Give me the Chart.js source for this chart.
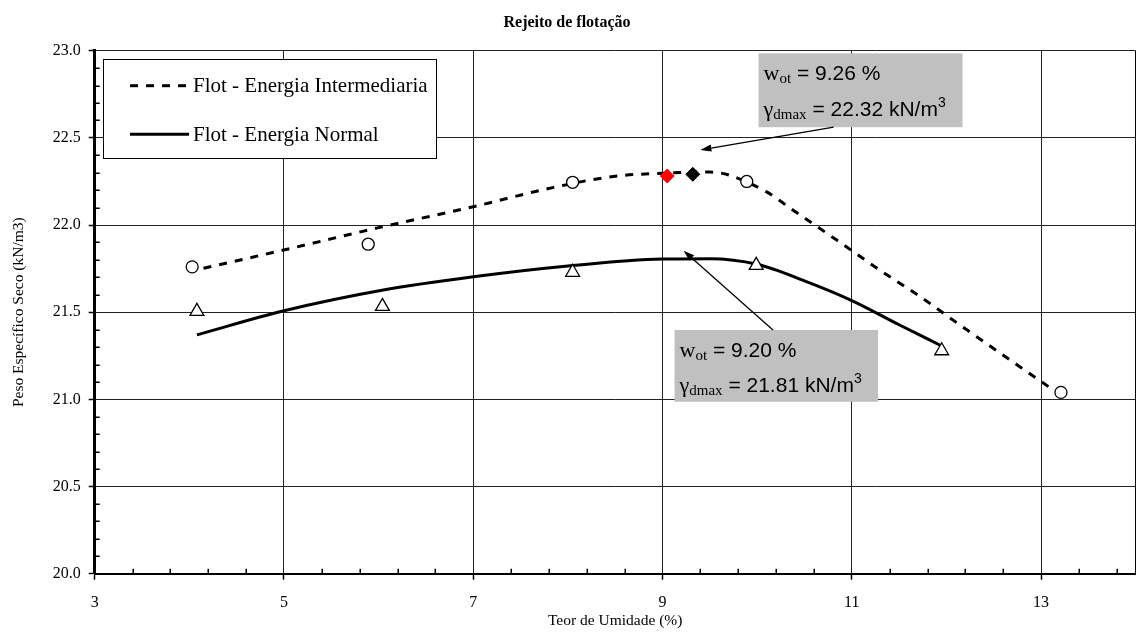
<!DOCTYPE html>
<html><head><meta charset="utf-8">
<script src="https://cdn.jsdelivr.net/npm/chart.js@4.4.1/dist/chart.umd.min.js"></script>
<style>html,body{margin:0;padding:0;background:#fff}#wrap{width:1138px;height:633px}</style>
</head><body><div id="wrap"><canvas id="c" width="1138" height="633"></canvas></div>
<script>
// ---------- data ----------
const chartTitle = 'Rejeito de flotação';
const xTitle = 'Teor de Umidade (%)';
const yTitle = 'Peso Específico Seco (kN/m3)';
const xTickValues = [3, 5, 7, 9, 11, 13];
const yTickValues = [20.0, 20.5, 21.0, 21.5, 22.0, 22.5, 23.0];
const seriesNames = ['Flot - Energia Intermediaria', 'Flot - Energia Normal'];

const intermPointsX = [4.03, 5.89, 8.05, 9.89, 13.21];
const intermPointsY = [21.76, 21.89, 22.245, 22.25, 21.04];
const normalPointsX = [4.08, 6.04, 8.05, 9.99, 11.95];
const normalPointsY = [21.505, 21.533, 21.729, 21.769, 21.279];

const intermCurveX = [4.15, 5.0, 6.0, 7.0, 7.85, 8.5, 9.0, 9.5, 9.7, 10.1, 10.38, 10.84, 11.3, 11.72, 12.16, 13.1];
const intermCurveY = [21.752, 21.857, 21.985, 22.105, 22.216, 22.28, 22.297, 22.304, 22.287, 22.19, 22.085, 21.914, 21.74, 21.59, 21.42, 21.065];
const normalCurveX = [4.08, 5.0, 6.05, 7.0, 8.0, 9.0, 9.5, 10.0, 10.5, 11.0, 11.5, 11.95];
const normalCurveY = [21.37, 21.508, 21.627, 21.703, 21.765, 21.805, 21.807, 21.775, 21.68, 21.567, 21.428, 21.306];

const optimumRedX = [9.05], optimumRedY = [22.281];
const optimumBlackX = [9.32], optimumBlackY = [22.291];

const annotWot = ['9.26 %', '9.20 %'];
const annotGamma = ['22.32 kN/m', '21.81 kN/m'];

// ---------- helpers ----------
const pts = (xs, ys) => xs.map((x, i) => ({x: x, y: ys[i]}));
const SERIF = 'Liberation Serif', SANS = 'Liberation Sans';
Chart.defaults.font.family = SERIF;

// annotation placement (data coordinates)
const annotLayout = [
  {box: [10.015, 22.985, 12.17, 22.561], from: [10.808, 22.561], to: [9.40, 22.431]},
  {box: [9.127, 21.398, 11.277, 20.986], from: [10.167, 21.398], to: [9.222, 21.853]}
];

function drawRuns(ctx, x, y, runs) {
  ctx.textBaseline = 'alphabetic';
  ctx.textAlign = 'left';
  for (const r of runs) {
    ctx.font = r.f;
    ctx.fillText(r.t, x, y + (r.dy || 0));
    x += ctx.measureText(r.t).width;
  }
}
function arrow(ctx, x1, y1, x2, y2) {
  ctx.save();
  ctx.strokeStyle = '#000'; ctx.fillStyle = '#000'; ctx.lineWidth = 1.3;
  const a = Math.atan2(y2 - y1, x2 - x1), L = 11, W = 3.5;
  const bx = x2 - L * Math.cos(a), by = y2 - L * Math.sin(a);
  ctx.beginPath(); ctx.moveTo(x1, y1); ctx.lineTo(bx, by); ctx.stroke();
  ctx.beginPath();
  ctx.moveTo(x2, y2);
  ctx.lineTo(bx + W * Math.sin(a), by - W * Math.cos(a));
  ctx.lineTo(bx - W * Math.sin(a), by + W * Math.cos(a));
  ctx.closePath(); ctx.fill();
  ctx.restore();
}

const decor = {
  id: 'decor',
  beforeDraw(chart) {
    const ctx = chart.ctx;
    ctx.save(); ctx.fillStyle = '#fff'; ctx.fillRect(0, 0, chart.width, chart.height); ctx.restore();
  },
  afterDraw(chart) {
    const ctx = chart.ctx, xs = chart.scales.x, ys = chart.scales.y, ca = chart.chartArea;
    ctx.save();
    // right frame
    ctx.strokeStyle = '#000'; ctx.lineWidth = 1;
    const xr = Math.round(xs.getPixelForValue(14)) - 0.5;
    ctx.beginPath(); ctx.moveTo(xr, ca.top); ctx.lineTo(xr, ca.bottom); ctx.stroke();
    // minor ticks
    ctx.lineWidth = 1.5;
    for (let i = 0; i <= 27; i++) {
      const v = 3 + 0.4 * i;
      if (Math.abs((v - 3) / 2 - Math.round((v - 3) / 2)) < 1e-6) continue;
      const px = Math.round(xs.getPixelForValue(v)) + 0.25;
      ctx.beginPath(); ctx.moveTo(px, ca.bottom); ctx.lineTo(px, ca.bottom - 5); ctx.stroke();
    }
    for (let i = 0; i <= 30; i++) {
      if (i % 5 === 0) continue;
      const v = 20 + 0.1 * i;
      const py = Math.round(ys.getPixelForValue(v)) + 0.25;
      ctx.beginPath(); ctx.moveTo(ca.left, py); ctx.lineTo(ca.left + 5, py); ctx.stroke();
    }
    // titles
    ctx.fillStyle = '#000';
    ctx.textAlign = 'center'; ctx.textBaseline = 'alphabetic';
    ctx.font = 'bold 16px ' + SERIF;
    ctx.fillText(chartTitle, 567, 27);
    ctx.font = '15.5px ' + SERIF;
    ctx.fillText(xTitle, (ca.left + ca.right) / 2, 625);
    ctx.save();
    ctx.translate(23, (ca.top + ca.bottom) / 2);
    ctx.rotate(-Math.PI / 2);
    ctx.fillText(yTitle, 0, 0);
    ctx.restore();

    // legend
    const lg = {l: 103, t: 59.3, r: 436, b: 158.3};
    ctx.fillStyle = '#fff';
    ctx.fillRect(lg.l, lg.t, lg.r - lg.l, lg.b - lg.t);
    ctx.strokeStyle = '#000'; ctx.lineWidth = 1;
    ctx.strokeRect(Math.round(lg.l) + 0.5, Math.round(lg.t) + 0.5, Math.round(lg.r - lg.l), Math.round(lg.b - lg.t));
    const ds = chart.data.datasets;
    const curves = ds.filter(d => d.isCurve);
    const rows = [85.7, 134.3];
    curves.forEach((d, i) => {
      ctx.save();
      ctx.strokeStyle = d.borderColor; ctx.lineWidth = d.borderWidth;
      ctx.setLineDash(d.borderDash || []);
      ctx.beginPath(); ctx.moveTo(130, rows[i]); ctx.lineTo(i === 0 ? 186 : 189, rows[i]); ctx.stroke();
      ctx.restore();
      ctx.fillStyle = '#000'; ctx.font = '21px ' + SERIF;
      ctx.textAlign = 'left'; ctx.textBaseline = 'alphabetic';
      ctx.fillText(d.label, 193, rows[i] + 6.5);
    });

    // annotations
    annotLayout.forEach((a, i) => {
      const l = xs.getPixelForValue(a.box[0]), t = ys.getPixelForValue(a.box[1]);
      const r = xs.getPixelForValue(a.box[2]), b = ys.getPixelForValue(a.box[3]);
      ctx.fillStyle = '#c0c0c0';
      ctx.fillRect(l, t, r - l, b - t);
      ctx.fillStyle = '#000';
      drawRuns(ctx, l + 5, t + 26.7, [
        {t: 'w', f: '22px ' + SERIF},
        {t: 'ot', f: '15px ' + SERIF, dy: 3},
        {t: ' = ' + annotWot[i], f: '21px ' + SANS}
      ]);
      drawRuns(ctx, l + 5, t + 62.5, [
        {t: 'γ', f: '22px ' + SERIF},
        {t: 'dmax', f: '15px ' + SERIF, dy: 3},
        {t: ' = ' + annotGamma[i], f: '21px ' + SANS},
        {t: '3', f: '14px ' + SANS, dy: -9}
      ]);
      arrow(ctx, xs.getPixelForValue(a.from[0]), ys.getPixelForValue(a.from[1]),
                 xs.getPixelForValue(a.to[0]), ys.getPixelForValue(a.to[1]));
    });
    ctx.restore();
  }
};

const gridColor = (skip) => (c) => (c.tick && Math.abs(c.tick.value - skip) < 1e-9) ? 'rgba(0,0,0,0)' : '#222';

new Chart(document.getElementById('c'), {
  type: 'scatter',
  data: {
    datasets: [
      {label: 'opt-red', data: pts(optimumRedX, optimumRedY), pointStyle: 'rectRot', pointRadius: 7,
       backgroundColor: '#ff0000', borderColor: '#ff0000', borderWidth: 1, showLine: false, order: 0},
      {label: 'opt-black', data: pts(optimumBlackX, optimumBlackY), pointStyle: 'rectRot', pointRadius: 7,
       backgroundColor: '#000', borderColor: '#000', borderWidth: 1, showLine: false, order: 0},
      {label: 'pts-interm', data: pts(intermPointsX, intermPointsY), pointStyle: 'circle', pointRadius: 6,
       backgroundColor: '#fff', borderColor: '#000', borderWidth: 1.3, showLine: false, order: 0},
      {label: 'pts-normal', data: pts(normalPointsX, normalPointsY), pointStyle: 'triangle', pointRadius: 8,
       backgroundColor: '#fff', borderColor: '#000', borderWidth: 1.3, showLine: false, order: 0},
      {label: seriesNames[0], isCurve: true, data: pts(intermCurveX, intermCurveY), showLine: true, pointRadius: 0,
       borderColor: '#000', borderWidth: 3, borderDash: [8, 8], cubicInterpolationMode: 'monotone', order: 1},
      {label: seriesNames[1], isCurve: true, data: pts(normalCurveX, normalCurveY), showLine: true, pointRadius: 0,
       borderColor: '#000', borderWidth: 3, cubicInterpolationMode: 'monotone', order: 1}
    ]
  },
  options: {
    responsive: false, animation: false, devicePixelRatio: 1,
    layout: {autoPadding: false, padding: {top: 50.7, left: 0, right: 2.3, bottom: 0}},
    plugins: {legend: {display: false}, tooltip: {enabled: false}, title: {display: false}},
    scales: {
      x: {
        type: 'linear', min: 3, max: 14,
        afterBuildTicks: s => { s.ticks = xTickValues.map(v => ({value: v})); },
        afterFit: s => { s.height = 59.3; s.paddingLeft = 0; s.paddingRight = 0; },
        grid: {color: gridColor(3), lineWidth: 1, drawTicks: true, tickLength: 6, tickColor: '#000', tickWidth: 1.5},
        border: {display: true, color: '#000', width: 2},
        ticks: {font: {family: SERIF, size: 16}, color: '#000', padding: 13, maxRotation: 0, autoSkip: false,
                callback: v => String(v)}
      },
      y: {
        type: 'linear', min: 20, max: 23,
        afterBuildTicks: s => { s.ticks = yTickValues.map(v => ({value: v})); },
        afterFit: s => { s.width = 94.7; s.paddingTop = 0; s.paddingBottom = 0; },
        grid: {color: gridColor(20), lineWidth: 1, drawTicks: true, tickLength: 6, tickColor: '#000', tickWidth: 1.5},
        border: {display: true, color: '#000', width: 3},
        ticks: {font: {family: SERIF, size: 16}, color: '#000', padding: 8, autoSkip: false,
                callback: v => Number(v).toFixed(1)}
      }
    }
  },
  plugins: [decor]
});
</script>
</body></html>
